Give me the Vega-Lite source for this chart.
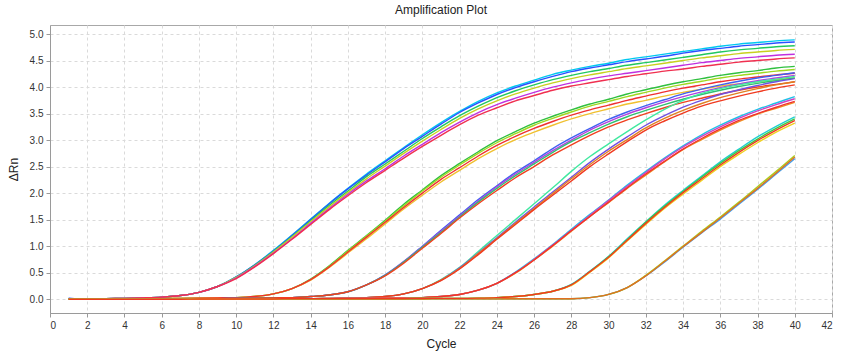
{
"$schema":"https://vega.github.io/schema/vega-lite/v6.json",
"width":782,"height":288,
"autosize":{"type":"none"},
"padding":{"left":50,"top":25,"right":12,"bottom":42},
"background":"white",
"title":{"text":"Amplification Plot","fontSize":12,"fontWeight":"normal","font":"Liberation Sans","color":"#222222","offset":8},
"datasets":{"curves":[
{"s":"Acy","c":1,"v":0.01},{"s":"Acy","c":2,"v":0},{"s":"Acy","c":3,"v":0.01},{"s":"Acy","c":4,"v":0.015},{"s":"Acy","c":5,"v":0.025},{"s":"Acy","c":6,"v":0.04},{"s":"Acy","c":7,"v":0.07},{"s":"Acy","c":8,"v":0.13},{"s":"Acy","c":9,"v":0.24},{"s":"Acy","c":10,"v":0.42},{"s":"Acy","c":11,"v":0.65},{"s":"Acy","c":12,"v":0.92},{"s":"Acy","c":13,"v":1.21},{"s":"Acy","c":14,"v":1.51},{"s":"Acy","c":15,"v":1.81},{"s":"Acy","c":16,"v":2.09},{"s":"Acy","c":17,"v":2.36},{"s":"Acy","c":18,"v":2.61},{"s":"Acy","c":19,"v":2.86},{"s":"Acy","c":20,"v":3.1},{"s":"Acy","c":21,"v":3.33},{"s":"Acy","c":22,"v":3.54},{"s":"Acy","c":23,"v":3.73},{"s":"Acy","c":24,"v":3.89},{"s":"Acy","c":25,"v":4.02},{"s":"Acy","c":26,"v":4.13},{"s":"Acy","c":27,"v":4.24},{"s":"Acy","c":28,"v":4.32},{"s":"Acy","c":29,"v":4.39},{"s":"Acy","c":30,"v":4.45},{"s":"Acy","c":31,"v":4.52},{"s":"Acy","c":32,"v":4.57},{"s":"Acy","c":33,"v":4.62},{"s":"Acy","c":34,"v":4.67},{"s":"Acy","c":35,"v":4.72},{"s":"Acy","c":36,"v":4.77},{"s":"Acy","c":37,"v":4.81},{"s":"Acy","c":38,"v":4.84},{"s":"Acy","c":39,"v":4.87},{"s":"Acy","c":40,"v":4.89},
{"s":"Abl","c":1,"v":0.02},{"s":"Abl","c":2,"v":0},{"s":"Abl","c":3,"v":0.01},{"s":"Abl","c":4,"v":0.015},{"s":"Abl","c":5,"v":0.025},{"s":"Abl","c":6,"v":0.04},{"s":"Abl","c":7,"v":0.07},{"s":"Abl","c":8,"v":0.13},{"s":"Abl","c":9,"v":0.24},{"s":"Abl","c":10,"v":0.42},{"s":"Abl","c":11,"v":0.65},{"s":"Abl","c":12,"v":0.91},{"s":"Abl","c":13,"v":1.2},{"s":"Abl","c":14,"v":1.5},{"s":"Abl","c":15,"v":1.8},{"s":"Abl","c":16,"v":2.08},{"s":"Abl","c":17,"v":2.34},{"s":"Abl","c":18,"v":2.59},{"s":"Abl","c":19,"v":2.84},{"s":"Abl","c":20,"v":3.07},{"s":"Abl","c":21,"v":3.3},{"s":"Abl","c":22,"v":3.52},{"s":"Abl","c":23,"v":3.7},{"s":"Abl","c":24,"v":3.86},{"s":"Abl","c":25,"v":3.99},{"s":"Abl","c":26,"v":4.1},{"s":"Abl","c":27,"v":4.2},{"s":"Abl","c":28,"v":4.29},{"s":"Abl","c":29,"v":4.36},{"s":"Abl","c":30,"v":4.42},{"s":"Abl","c":31,"v":4.48},{"s":"Abl","c":32,"v":4.53},{"s":"Abl","c":33,"v":4.58},{"s":"Abl","c":34,"v":4.64},{"s":"Abl","c":35,"v":4.69},{"s":"Abl","c":36,"v":4.73},{"s":"Abl","c":37,"v":4.77},{"s":"Abl","c":38,"v":4.8},{"s":"Abl","c":39,"v":4.83},{"s":"Abl","c":40,"v":4.85},
{"s":"Agr","c":1,"v":0.01},{"s":"Agr","c":2,"v":0},{"s":"Agr","c":3,"v":0.01},{"s":"Agr","c":4,"v":0.015},{"s":"Agr","c":5,"v":0.025},{"s":"Agr","c":6,"v":0.04},{"s":"Agr","c":7,"v":0.07},{"s":"Agr","c":8,"v":0.13},{"s":"Agr","c":9,"v":0.24},{"s":"Agr","c":10,"v":0.41},{"s":"Agr","c":11,"v":0.64},{"s":"Agr","c":12,"v":0.9},{"s":"Agr","c":13,"v":1.18},{"s":"Agr","c":14,"v":1.48},{"s":"Agr","c":15,"v":1.77},{"s":"Agr","c":16,"v":2.04},{"s":"Agr","c":17,"v":2.31},{"s":"Agr","c":18,"v":2.55},{"s":"Agr","c":19,"v":2.79},{"s":"Agr","c":20,"v":3.03},{"s":"Agr","c":21,"v":3.25},{"s":"Agr","c":22,"v":3.46},{"s":"Agr","c":23,"v":3.64},{"s":"Agr","c":24,"v":3.8},{"s":"Agr","c":25,"v":3.93},{"s":"Agr","c":26,"v":4.04},{"s":"Agr","c":27,"v":4.14},{"s":"Agr","c":28,"v":4.22},{"s":"Agr","c":29,"v":4.29},{"s":"Agr","c":30,"v":4.35},{"s":"Agr","c":31,"v":4.41},{"s":"Agr","c":32,"v":4.46},{"s":"Agr","c":33,"v":4.51},{"s":"Agr","c":34,"v":4.56},{"s":"Agr","c":35,"v":4.61},{"s":"Agr","c":36,"v":4.66},{"s":"Agr","c":37,"v":4.7},{"s":"Agr","c":38,"v":4.73},{"s":"Agr","c":39,"v":4.76},{"s":"Agr","c":40,"v":4.78},
{"s":"Aye","c":1,"v":0.01},{"s":"Aye","c":2,"v":0},{"s":"Aye","c":3,"v":0.01},{"s":"Aye","c":4,"v":0.015},{"s":"Aye","c":5,"v":0.025},{"s":"Aye","c":6,"v":0.04},{"s":"Aye","c":7,"v":0.07},{"s":"Aye","c":8,"v":0.13},{"s":"Aye","c":9,"v":0.24},{"s":"Aye","c":10,"v":0.41},{"s":"Aye","c":11,"v":0.63},{"s":"Aye","c":12,"v":0.89},{"s":"Aye","c":13,"v":1.17},{"s":"Aye","c":14,"v":1.46},{"s":"Aye","c":15,"v":1.74},{"s":"Aye","c":16,"v":2.01},{"s":"Aye","c":17,"v":2.27},{"s":"Aye","c":18,"v":2.51},{"s":"Aye","c":19,"v":2.75},{"s":"Aye","c":20,"v":2.98},{"s":"Aye","c":21,"v":3.2},{"s":"Aye","c":22,"v":3.41},{"s":"Aye","c":23,"v":3.59},{"s":"Aye","c":24,"v":3.74},{"s":"Aye","c":25,"v":3.87},{"s":"Aye","c":26,"v":3.98},{"s":"Aye","c":27,"v":4.08},{"s":"Aye","c":28,"v":4.16},{"s":"Aye","c":29,"v":4.23},{"s":"Aye","c":30,"v":4.29},{"s":"Aye","c":31,"v":4.35},{"s":"Aye","c":32,"v":4.4},{"s":"Aye","c":33,"v":4.45},{"s":"Aye","c":34,"v":4.5},{"s":"Aye","c":35,"v":4.55},{"s":"Aye","c":36,"v":4.59},{"s":"Aye","c":37,"v":4.63},{"s":"Aye","c":38,"v":4.66},{"s":"Aye","c":39,"v":4.69},{"s":"Aye","c":40,"v":4.71},
{"s":"Ama","c":1,"v":0.01},{"s":"Ama","c":2,"v":0},{"s":"Ama","c":3,"v":0.01},{"s":"Ama","c":4,"v":0.015},{"s":"Ama","c":5,"v":0.025},{"s":"Ama","c":6,"v":0.04},{"s":"Ama","c":7,"v":0.07},{"s":"Ama","c":8,"v":0.13},{"s":"Ama","c":9,"v":0.24},{"s":"Ama","c":10,"v":0.4},{"s":"Ama","c":11,"v":0.62},{"s":"Ama","c":12,"v":0.87},{"s":"Ama","c":13,"v":1.14},{"s":"Ama","c":14,"v":1.43},{"s":"Ama","c":15,"v":1.71},{"s":"Ama","c":16,"v":1.98},{"s":"Ama","c":17,"v":2.23},{"s":"Ama","c":18,"v":2.46},{"s":"Ama","c":19,"v":2.7},{"s":"Ama","c":20,"v":2.92},{"s":"Ama","c":21,"v":3.14},{"s":"Ama","c":22,"v":3.34},{"s":"Ama","c":23,"v":3.52},{"s":"Ama","c":24,"v":3.67},{"s":"Ama","c":25,"v":3.79},{"s":"Ama","c":26,"v":3.9},{"s":"Ama","c":27,"v":4.0},{"s":"Ama","c":28,"v":4.08},{"s":"Ama","c":29,"v":4.15},{"s":"Ama","c":30,"v":4.21},{"s":"Ama","c":31,"v":4.26},{"s":"Ama","c":32,"v":4.31},{"s":"Ama","c":33,"v":4.36},{"s":"Ama","c":34,"v":4.41},{"s":"Ama","c":35,"v":4.46},{"s":"Ama","c":36,"v":4.5},{"s":"Ama","c":37,"v":4.54},{"s":"Ama","c":38,"v":4.57},{"s":"Ama","c":39,"v":4.6},{"s":"Ama","c":40,"v":4.62},
{"s":"Are","c":1,"v":0.01},{"s":"Are","c":2,"v":0},{"s":"Are","c":3,"v":0.01},{"s":"Are","c":4,"v":0.015},{"s":"Are","c":5,"v":0.025},{"s":"Are","c":6,"v":0.04},{"s":"Are","c":7,"v":0.07},{"s":"Are","c":8,"v":0.13},{"s":"Are","c":9,"v":0.24},{"s":"Are","c":10,"v":0.39},{"s":"Are","c":11,"v":0.61},{"s":"Are","c":12,"v":0.86},{"s":"Are","c":13,"v":1.13},{"s":"Are","c":14,"v":1.41},{"s":"Are","c":15,"v":1.69},{"s":"Are","c":16,"v":1.95},{"s":"Are","c":17,"v":2.2},{"s":"Are","c":18,"v":2.43},{"s":"Are","c":19,"v":2.66},{"s":"Are","c":20,"v":2.88},{"s":"Are","c":21,"v":3.09},{"s":"Are","c":22,"v":3.29},{"s":"Are","c":23,"v":3.47},{"s":"Are","c":24,"v":3.61},{"s":"Are","c":25,"v":3.74},{"s":"Are","c":26,"v":3.84},{"s":"Are","c":27,"v":3.94},{"s":"Are","c":28,"v":4.02},{"s":"Are","c":29,"v":4.08},{"s":"Are","c":30,"v":4.14},{"s":"Are","c":31,"v":4.2},{"s":"Are","c":32,"v":4.25},{"s":"Are","c":33,"v":4.3},{"s":"Are","c":34,"v":4.34},{"s":"Are","c":35,"v":4.39},{"s":"Are","c":36,"v":4.43},{"s":"Are","c":37,"v":4.47},{"s":"Are","c":38,"v":4.5},{"s":"Are","c":39,"v":4.53},{"s":"Are","c":40,"v":4.55},
{"s":"Bgr","c":1,"v":0},{"s":"Bgr","c":2,"v":0},{"s":"Bgr","c":3,"v":0.005},{"s":"Bgr","c":4,"v":0.005},{"s":"Bgr","c":5,"v":0.01},{"s":"Bgr","c":6,"v":0.01},{"s":"Bgr","c":7,"v":0.015},{"s":"Bgr","c":8,"v":0.02},{"s":"Bgr","c":9,"v":0.025},{"s":"Bgr","c":10,"v":0.03},{"s":"Bgr","c":11,"v":0.05},{"s":"Bgr","c":12,"v":0.1},{"s":"Bgr","c":13,"v":0.2},{"s":"Bgr","c":14,"v":0.38},{"s":"Bgr","c":15,"v":0.63},{"s":"Bgr","c":16,"v":0.92},{"s":"Bgr","c":17,"v":1.2},{"s":"Bgr","c":18,"v":1.49},{"s":"Bgr","c":19,"v":1.79},{"s":"Bgr","c":20,"v":2.06},{"s":"Bgr","c":21,"v":2.33},{"s":"Bgr","c":22,"v":2.56},{"s":"Bgr","c":23,"v":2.78},{"s":"Bgr","c":24,"v":2.99},{"s":"Bgr","c":25,"v":3.16},{"s":"Bgr","c":26,"v":3.32},{"s":"Bgr","c":27,"v":3.45},{"s":"Bgr","c":28,"v":3.57},{"s":"Bgr","c":29,"v":3.68},{"s":"Bgr","c":30,"v":3.77},{"s":"Bgr","c":31,"v":3.87},{"s":"Bgr","c":32,"v":3.95},{"s":"Bgr","c":33,"v":4.03},{"s":"Bgr","c":34,"v":4.1},{"s":"Bgr","c":35,"v":4.16},{"s":"Bgr","c":36,"v":4.22},{"s":"Bgr","c":37,"v":4.27},{"s":"Bgr","c":38,"v":4.31},{"s":"Bgr","c":39,"v":4.36},{"s":"Bgr","c":40,"v":4.39},
{"s":"Bli","c":1,"v":0},{"s":"Bli","c":2,"v":0},{"s":"Bli","c":3,"v":0.005},{"s":"Bli","c":4,"v":0.005},{"s":"Bli","c":5,"v":0.01},{"s":"Bli","c":6,"v":0.01},{"s":"Bli","c":7,"v":0.015},{"s":"Bli","c":8,"v":0.02},{"s":"Bli","c":9,"v":0.025},{"s":"Bli","c":10,"v":0.03},{"s":"Bli","c":11,"v":0.05},{"s":"Bli","c":12,"v":0.1},{"s":"Bli","c":13,"v":0.2},{"s":"Bli","c":14,"v":0.37},{"s":"Bli","c":15,"v":0.62},{"s":"Bli","c":16,"v":0.91},{"s":"Bli","c":17,"v":1.19},{"s":"Bli","c":18,"v":1.47},{"s":"Bli","c":19,"v":1.76},{"s":"Bli","c":20,"v":2.04},{"s":"Bli","c":21,"v":2.3},{"s":"Bli","c":22,"v":2.53},{"s":"Bli","c":23,"v":2.75},{"s":"Bli","c":24,"v":2.95},{"s":"Bli","c":25,"v":3.12},{"s":"Bli","c":26,"v":3.28},{"s":"Bli","c":27,"v":3.41},{"s":"Bli","c":28,"v":3.53},{"s":"Bli","c":29,"v":3.64},{"s":"Bli","c":30,"v":3.73},{"s":"Bli","c":31,"v":3.82},{"s":"Bli","c":32,"v":3.9},{"s":"Bli","c":33,"v":3.98},{"s":"Bli","c":34,"v":4.05},{"s":"Bli","c":35,"v":4.11},{"s":"Bli","c":36,"v":4.17},{"s":"Bli","c":37,"v":4.22},{"s":"Bli","c":38,"v":4.26},{"s":"Bli","c":39,"v":4.3},{"s":"Bli","c":40,"v":4.33},
{"s":"Bye","c":1,"v":0},{"s":"Bye","c":2,"v":0},{"s":"Bye","c":3,"v":0.005},{"s":"Bye","c":4,"v":0.005},{"s":"Bye","c":5,"v":0.01},{"s":"Bye","c":6,"v":0.01},{"s":"Bye","c":7,"v":0.015},{"s":"Bye","c":8,"v":0.02},{"s":"Bye","c":9,"v":0.025},{"s":"Bye","c":10,"v":0.03},{"s":"Bye","c":11,"v":0.05},{"s":"Bye","c":12,"v":0.1},{"s":"Bye","c":13,"v":0.2},{"s":"Bye","c":14,"v":0.36},{"s":"Bye","c":15,"v":0.6},{"s":"Bye","c":16,"v":0.87},{"s":"Bye","c":17,"v":1.14},{"s":"Bye","c":18,"v":1.42},{"s":"Bye","c":19,"v":1.7},{"s":"Bye","c":20,"v":1.96},{"s":"Bye","c":21,"v":2.21},{"s":"Bye","c":22,"v":2.43},{"s":"Bye","c":23,"v":2.65},{"s":"Bye","c":24,"v":2.84},{"s":"Bye","c":25,"v":3.01},{"s":"Bye","c":26,"v":3.15},{"s":"Bye","c":27,"v":3.28},{"s":"Bye","c":28,"v":3.4},{"s":"Bye","c":29,"v":3.5},{"s":"Bye","c":30,"v":3.59},{"s":"Bye","c":31,"v":3.68},{"s":"Bye","c":32,"v":3.75},{"s":"Bye","c":33,"v":3.83},{"s":"Bye","c":34,"v":3.9},{"s":"Bye","c":35,"v":3.96},{"s":"Bye","c":36,"v":4.02},{"s":"Bye","c":37,"v":4.06},{"s":"Bye","c":38,"v":4.1},{"s":"Bye","c":39,"v":4.14},{"s":"Bye","c":40,"v":4.17},
{"s":"Bre","c":1,"v":0},{"s":"Bre","c":2,"v":0},{"s":"Bre","c":3,"v":0.005},{"s":"Bre","c":4,"v":0.005},{"s":"Bre","c":5,"v":0.01},{"s":"Bre","c":6,"v":0.01},{"s":"Bre","c":7,"v":0.015},{"s":"Bre","c":8,"v":0.02},{"s":"Bre","c":9,"v":0.025},{"s":"Bre","c":10,"v":0.03},{"s":"Bre","c":11,"v":0.05},{"s":"Bre","c":12,"v":0.1},{"s":"Bre","c":13,"v":0.2},{"s":"Bre","c":14,"v":0.37},{"s":"Bre","c":15,"v":0.61},{"s":"Bre","c":16,"v":0.89},{"s":"Bre","c":17,"v":1.17},{"s":"Bre","c":18,"v":1.45},{"s":"Bre","c":19,"v":1.73},{"s":"Bre","c":20,"v":2.0},{"s":"Bre","c":21,"v":2.26},{"s":"Bre","c":22,"v":2.48},{"s":"Bre","c":23,"v":2.7},{"s":"Bre","c":24,"v":2.9},{"s":"Bre","c":25,"v":3.07},{"s":"Bre","c":26,"v":3.22},{"s":"Bre","c":27,"v":3.35},{"s":"Bre","c":28,"v":3.47},{"s":"Bre","c":29,"v":3.57},{"s":"Bre","c":30,"v":3.66},{"s":"Bre","c":31,"v":3.75},{"s":"Bre","c":32,"v":3.83},{"s":"Bre","c":33,"v":3.91},{"s":"Bre","c":34,"v":3.98},{"s":"Bre","c":35,"v":4.04},{"s":"Bre","c":36,"v":4.1},{"s":"Bre","c":37,"v":4.15},{"s":"Bre","c":38,"v":4.19},{"s":"Bre","c":39,"v":4.23},{"s":"Bre","c":40,"v":4.26},
{"s":"Cbl","c":1,"v":0},{"s":"Cbl","c":2,"v":0},{"s":"Cbl","c":3,"v":0},{"s":"Cbl","c":4,"v":0.005},{"s":"Cbl","c":5,"v":0.005},{"s":"Cbl","c":6,"v":0.005},{"s":"Cbl","c":7,"v":0.01},{"s":"Cbl","c":8,"v":0.01},{"s":"Cbl","c":9,"v":0.01},{"s":"Cbl","c":10,"v":0.015},{"s":"Cbl","c":11,"v":0.02},{"s":"Cbl","c":12,"v":0.025},{"s":"Cbl","c":13,"v":0.03},{"s":"Cbl","c":14,"v":0.05},{"s":"Cbl","c":15,"v":0.08},{"s":"Cbl","c":16,"v":0.14},{"s":"Cbl","c":17,"v":0.27},{"s":"Cbl","c":18,"v":0.46},{"s":"Cbl","c":19,"v":0.71},{"s":"Cbl","c":20,"v":1.0},{"s":"Cbl","c":21,"v":1.3},{"s":"Cbl","c":22,"v":1.59},{"s":"Cbl","c":23,"v":1.88},{"s":"Cbl","c":24,"v":2.14},{"s":"Cbl","c":25,"v":2.39},{"s":"Cbl","c":26,"v":2.61},{"s":"Cbl","c":27,"v":2.84},{"s":"Cbl","c":28,"v":3.04},{"s":"Cbl","c":29,"v":3.22},{"s":"Cbl","c":30,"v":3.39},{"s":"Cbl","c":31,"v":3.53},{"s":"Cbl","c":32,"v":3.65},{"s":"Cbl","c":33,"v":3.76},{"s":"Cbl","c":34,"v":3.87},{"s":"Cbl","c":35,"v":3.96},{"s":"Cbl","c":36,"v":4.04},{"s":"Cbl","c":37,"v":4.11},{"s":"Cbl","c":38,"v":4.17},{"s":"Cbl","c":39,"v":4.22},{"s":"Cbl","c":40,"v":4.27},
{"s":"Cma","c":1,"v":0},{"s":"Cma","c":2,"v":0},{"s":"Cma","c":3,"v":0},{"s":"Cma","c":4,"v":0.005},{"s":"Cma","c":5,"v":0.005},{"s":"Cma","c":6,"v":0.005},{"s":"Cma","c":7,"v":0.01},{"s":"Cma","c":8,"v":0.01},{"s":"Cma","c":9,"v":0.01},{"s":"Cma","c":10,"v":0.015},{"s":"Cma","c":11,"v":0.02},{"s":"Cma","c":12,"v":0.025},{"s":"Cma","c":13,"v":0.03},{"s":"Cma","c":14,"v":0.05},{"s":"Cma","c":15,"v":0.08},{"s":"Cma","c":16,"v":0.14},{"s":"Cma","c":17,"v":0.27},{"s":"Cma","c":18,"v":0.45},{"s":"Cma","c":19,"v":0.71},{"s":"Cma","c":20,"v":0.99},{"s":"Cma","c":21,"v":1.28},{"s":"Cma","c":22,"v":1.57},{"s":"Cma","c":23,"v":1.85},{"s":"Cma","c":24,"v":2.12},{"s":"Cma","c":25,"v":2.36},{"s":"Cma","c":26,"v":2.58},{"s":"Cma","c":27,"v":2.8},{"s":"Cma","c":28,"v":3.0},{"s":"Cma","c":29,"v":3.19},{"s":"Cma","c":30,"v":3.35},{"s":"Cma","c":31,"v":3.49},{"s":"Cma","c":32,"v":3.61},{"s":"Cma","c":33,"v":3.72},{"s":"Cma","c":34,"v":3.82},{"s":"Cma","c":35,"v":3.91},{"s":"Cma","c":36,"v":3.99},{"s":"Cma","c":37,"v":4.06},{"s":"Cma","c":38,"v":4.12},{"s":"Cma","c":39,"v":4.17},{"s":"Cma","c":40,"v":4.22},
{"s":"Cgr","c":1,"v":0},{"s":"Cgr","c":2,"v":0},{"s":"Cgr","c":3,"v":0},{"s":"Cgr","c":4,"v":0.005},{"s":"Cgr","c":5,"v":0.005},{"s":"Cgr","c":6,"v":0.005},{"s":"Cgr","c":7,"v":0.01},{"s":"Cgr","c":8,"v":0.01},{"s":"Cgr","c":9,"v":0.01},{"s":"Cgr","c":10,"v":0.015},{"s":"Cgr","c":11,"v":0.02},{"s":"Cgr","c":12,"v":0.025},{"s":"Cgr","c":13,"v":0.03},{"s":"Cgr","c":14,"v":0.05},{"s":"Cgr","c":15,"v":0.08},{"s":"Cgr","c":16,"v":0.14},{"s":"Cgr","c":17,"v":0.27},{"s":"Cgr","c":18,"v":0.45},{"s":"Cgr","c":19,"v":0.7},{"s":"Cgr","c":20,"v":0.98},{"s":"Cgr","c":21,"v":1.26},{"s":"Cgr","c":22,"v":1.55},{"s":"Cgr","c":23,"v":1.83},{"s":"Cgr","c":24,"v":2.09},{"s":"Cgr","c":25,"v":2.33},{"s":"Cgr","c":26,"v":2.55},{"s":"Cgr","c":27,"v":2.77},{"s":"Cgr","c":28,"v":2.97},{"s":"Cgr","c":29,"v":3.14},{"s":"Cgr","c":30,"v":3.3},{"s":"Cgr","c":31,"v":3.44},{"s":"Cgr","c":32,"v":3.56},{"s":"Cgr","c":33,"v":3.67},{"s":"Cgr","c":34,"v":3.77},{"s":"Cgr","c":35,"v":3.86},{"s":"Cgr","c":36,"v":3.94},{"s":"Cgr","c":37,"v":4.01},{"s":"Cgr","c":38,"v":4.07},{"s":"Cgr","c":39,"v":4.12},{"s":"Cgr","c":40,"v":4.17},
{"s":"Cre","c":1,"v":0},{"s":"Cre","c":2,"v":0},{"s":"Cre","c":3,"v":0},{"s":"Cre","c":4,"v":0.005},{"s":"Cre","c":5,"v":0.005},{"s":"Cre","c":6,"v":0.005},{"s":"Cre","c":7,"v":0.01},{"s":"Cre","c":8,"v":0.01},{"s":"Cre","c":9,"v":0.01},{"s":"Cre","c":10,"v":0.015},{"s":"Cre","c":11,"v":0.02},{"s":"Cre","c":12,"v":0.025},{"s":"Cre","c":13,"v":0.03},{"s":"Cre","c":14,"v":0.05},{"s":"Cre","c":15,"v":0.08},{"s":"Cre","c":16,"v":0.14},{"s":"Cre","c":17,"v":0.27},{"s":"Cre","c":18,"v":0.44},{"s":"Cre","c":19,"v":0.68},{"s":"Cre","c":20,"v":0.96},{"s":"Cre","c":21,"v":1.24},{"s":"Cre","c":22,"v":1.53},{"s":"Cre","c":23,"v":1.8},{"s":"Cre","c":24,"v":2.05},{"s":"Cre","c":25,"v":2.29},{"s":"Cre","c":26,"v":2.5},{"s":"Cre","c":27,"v":2.72},{"s":"Cre","c":28,"v":2.91},{"s":"Cre","c":29,"v":3.09},{"s":"Cre","c":30,"v":3.25},{"s":"Cre","c":31,"v":3.38},{"s":"Cre","c":32,"v":3.5},{"s":"Cre","c":33,"v":3.61},{"s":"Cre","c":34,"v":3.71},{"s":"Cre","c":35,"v":3.79},{"s":"Cre","c":36,"v":3.87},{"s":"Cre","c":37,"v":3.94},{"s":"Cre","c":38,"v":4.0},{"s":"Cre","c":39,"v":4.05},{"s":"Cre","c":40,"v":4.1},
{"s":"Dmi","c":1,"v":0},{"s":"Dmi","c":2,"v":0},{"s":"Dmi","c":3,"v":0},{"s":"Dmi","c":4,"v":0},{"s":"Dmi","c":5,"v":0.005},{"s":"Dmi","c":6,"v":0.005},{"s":"Dmi","c":7,"v":0.005},{"s":"Dmi","c":8,"v":0.005},{"s":"Dmi","c":9,"v":0.01},{"s":"Dmi","c":10,"v":0.01},{"s":"Dmi","c":11,"v":0.01},{"s":"Dmi","c":12,"v":0.01},{"s":"Dmi","c":13,"v":0.01},{"s":"Dmi","c":14,"v":0.01},{"s":"Dmi","c":15,"v":0.015},{"s":"Dmi","c":16,"v":0.02},{"s":"Dmi","c":17,"v":0.03},{"s":"Dmi","c":18,"v":0.05},{"s":"Dmi","c":19,"v":0.1},{"s":"Dmi","c":20,"v":0.2},{"s":"Dmi","c":21,"v":0.37},{"s":"Dmi","c":22,"v":0.6},{"s":"Dmi","c":23,"v":0.9},{"s":"Dmi","c":24,"v":1.2},{"s":"Dmi","c":25,"v":1.5},{"s":"Dmi","c":26,"v":1.8},{"s":"Dmi","c":27,"v":2.1},{"s":"Dmi","c":28,"v":2.41},{"s":"Dmi","c":29,"v":2.69},{"s":"Dmi","c":30,"v":2.93},{"s":"Dmi","c":31,"v":3.16},{"s":"Dmi","c":32,"v":3.38},{"s":"Dmi","c":33,"v":3.58},{"s":"Dmi","c":34,"v":3.75},{"s":"Dmi","c":35,"v":3.88},{"s":"Dmi","c":36,"v":3.97},{"s":"Dmi","c":37,"v":4.04},{"s":"Dmi","c":38,"v":4.1},{"s":"Dmi","c":39,"v":4.15},{"s":"Dmi","c":40,"v":4.2},
{"s":"Dpu","c":1,"v":0},{"s":"Dpu","c":2,"v":0},{"s":"Dpu","c":3,"v":0},{"s":"Dpu","c":4,"v":0},{"s":"Dpu","c":5,"v":0.005},{"s":"Dpu","c":6,"v":0.005},{"s":"Dpu","c":7,"v":0.005},{"s":"Dpu","c":8,"v":0.005},{"s":"Dpu","c":9,"v":0.01},{"s":"Dpu","c":10,"v":0.01},{"s":"Dpu","c":11,"v":0.01},{"s":"Dpu","c":12,"v":0.01},{"s":"Dpu","c":13,"v":0.01},{"s":"Dpu","c":14,"v":0.01},{"s":"Dpu","c":15,"v":0.015},{"s":"Dpu","c":16,"v":0.02},{"s":"Dpu","c":17,"v":0.03},{"s":"Dpu","c":18,"v":0.05},{"s":"Dpu","c":19,"v":0.1},{"s":"Dpu","c":20,"v":0.2},{"s":"Dpu","c":21,"v":0.36},{"s":"Dpu","c":22,"v":0.59},{"s":"Dpu","c":23,"v":0.87},{"s":"Dpu","c":24,"v":1.16},{"s":"Dpu","c":25,"v":1.45},{"s":"Dpu","c":26,"v":1.74},{"s":"Dpu","c":27,"v":2.02},{"s":"Dpu","c":28,"v":2.3},{"s":"Dpu","c":29,"v":2.58},{"s":"Dpu","c":30,"v":2.83},{"s":"Dpu","c":31,"v":3.06},{"s":"Dpu","c":32,"v":3.28},{"s":"Dpu","c":33,"v":3.46},{"s":"Dpu","c":34,"v":3.62},{"s":"Dpu","c":35,"v":3.75},{"s":"Dpu","c":36,"v":3.86},{"s":"Dpu","c":37,"v":3.95},{"s":"Dpu","c":38,"v":4.03},{"s":"Dpu","c":39,"v":4.1},{"s":"Dpu","c":40,"v":4.16},
{"s":"Dor","c":1,"v":0},{"s":"Dor","c":2,"v":0},{"s":"Dor","c":3,"v":0},{"s":"Dor","c":4,"v":0},{"s":"Dor","c":5,"v":0.005},{"s":"Dor","c":6,"v":0.005},{"s":"Dor","c":7,"v":0.005},{"s":"Dor","c":8,"v":0.005},{"s":"Dor","c":9,"v":0.01},{"s":"Dor","c":10,"v":0.01},{"s":"Dor","c":11,"v":0.01},{"s":"Dor","c":12,"v":0.01},{"s":"Dor","c":13,"v":0.01},{"s":"Dor","c":14,"v":0.01},{"s":"Dor","c":15,"v":0.015},{"s":"Dor","c":16,"v":0.02},{"s":"Dor","c":17,"v":0.03},{"s":"Dor","c":18,"v":0.05},{"s":"Dor","c":19,"v":0.1},{"s":"Dor","c":20,"v":0.2},{"s":"Dor","c":21,"v":0.36},{"s":"Dor","c":22,"v":0.58},{"s":"Dor","c":23,"v":0.86},{"s":"Dor","c":24,"v":1.14},{"s":"Dor","c":25,"v":1.43},{"s":"Dor","c":26,"v":1.71},{"s":"Dor","c":27,"v":1.99},{"s":"Dor","c":28,"v":2.27},{"s":"Dor","c":29,"v":2.54},{"s":"Dor","c":30,"v":2.79},{"s":"Dor","c":31,"v":3.01},{"s":"Dor","c":32,"v":3.23},{"s":"Dor","c":33,"v":3.41},{"s":"Dor","c":34,"v":3.56},{"s":"Dor","c":35,"v":3.69},{"s":"Dor","c":36,"v":3.8},{"s":"Dor","c":37,"v":3.89},{"s":"Dor","c":38,"v":3.97},{"s":"Dor","c":39,"v":4.04},{"s":"Dor","c":40,"v":4.1},
{"s":"Dre","c":1,"v":0},{"s":"Dre","c":2,"v":0},{"s":"Dre","c":3,"v":0},{"s":"Dre","c":4,"v":0},{"s":"Dre","c":5,"v":0.005},{"s":"Dre","c":6,"v":0.005},{"s":"Dre","c":7,"v":0.005},{"s":"Dre","c":8,"v":0.005},{"s":"Dre","c":9,"v":0.01},{"s":"Dre","c":10,"v":0.01},{"s":"Dre","c":11,"v":0.01},{"s":"Dre","c":12,"v":0.01},{"s":"Dre","c":13,"v":0.01},{"s":"Dre","c":14,"v":0.01},{"s":"Dre","c":15,"v":0.015},{"s":"Dre","c":16,"v":0.02},{"s":"Dre","c":17,"v":0.03},{"s":"Dre","c":18,"v":0.05},{"s":"Dre","c":19,"v":0.1},{"s":"Dre","c":20,"v":0.2},{"s":"Dre","c":21,"v":0.35},{"s":"Dre","c":22,"v":0.57},{"s":"Dre","c":23,"v":0.84},{"s":"Dre","c":24,"v":1.13},{"s":"Dre","c":25,"v":1.41},{"s":"Dre","c":26,"v":1.69},{"s":"Dre","c":27,"v":1.96},{"s":"Dre","c":28,"v":2.23},{"s":"Dre","c":29,"v":2.5},{"s":"Dre","c":30,"v":2.74},{"s":"Dre","c":31,"v":2.97},{"s":"Dre","c":32,"v":3.19},{"s":"Dre","c":33,"v":3.36},{"s":"Dre","c":34,"v":3.51},{"s":"Dre","c":35,"v":3.64},{"s":"Dre","c":36,"v":3.74},{"s":"Dre","c":37,"v":3.83},{"s":"Dre","c":38,"v":3.91},{"s":"Dre","c":39,"v":3.98},{"s":"Dre","c":40,"v":4.04},
{"s":"Ecy","c":1,"v":0},{"s":"Ecy","c":2,"v":0},{"s":"Ecy","c":3,"v":0},{"s":"Ecy","c":4,"v":0},{"s":"Ecy","c":5,"v":0},{"s":"Ecy","c":6,"v":0.005},{"s":"Ecy","c":7,"v":0.005},{"s":"Ecy","c":8,"v":0.005},{"s":"Ecy","c":9,"v":0.005},{"s":"Ecy","c":10,"v":0.01},{"s":"Ecy","c":11,"v":0.01},{"s":"Ecy","c":12,"v":0.01},{"s":"Ecy","c":13,"v":0.01},{"s":"Ecy","c":14,"v":0.01},{"s":"Ecy","c":15,"v":0.01},{"s":"Ecy","c":16,"v":0.015},{"s":"Ecy","c":17,"v":0.015},{"s":"Ecy","c":18,"v":0.02},{"s":"Ecy","c":19,"v":0.02},{"s":"Ecy","c":20,"v":0.03},{"s":"Ecy","c":21,"v":0.05},{"s":"Ecy","c":22,"v":0.09},{"s":"Ecy","c":23,"v":0.17},{"s":"Ecy","c":24,"v":0.3},{"s":"Ecy","c":25,"v":0.51},{"s":"Ecy","c":26,"v":0.76},{"s":"Ecy","c":27,"v":1.03},{"s":"Ecy","c":28,"v":1.32},{"s":"Ecy","c":29,"v":1.6},{"s":"Ecy","c":30,"v":1.87},{"s":"Ecy","c":31,"v":2.15},{"s":"Ecy","c":32,"v":2.41},{"s":"Ecy","c":33,"v":2.66},{"s":"Ecy","c":34,"v":2.89},{"s":"Ecy","c":35,"v":3.1},{"s":"Ecy","c":36,"v":3.28},{"s":"Ecy","c":37,"v":3.44},{"s":"Ecy","c":38,"v":3.58},{"s":"Ecy","c":39,"v":3.7},{"s":"Ecy","c":40,"v":3.82},
{"s":"Ema","c":1,"v":0},{"s":"Ema","c":2,"v":0},{"s":"Ema","c":3,"v":0},{"s":"Ema","c":4,"v":0},{"s":"Ema","c":5,"v":0},{"s":"Ema","c":6,"v":0.005},{"s":"Ema","c":7,"v":0.005},{"s":"Ema","c":8,"v":0.005},{"s":"Ema","c":9,"v":0.005},{"s":"Ema","c":10,"v":0.01},{"s":"Ema","c":11,"v":0.01},{"s":"Ema","c":12,"v":0.01},{"s":"Ema","c":13,"v":0.01},{"s":"Ema","c":14,"v":0.01},{"s":"Ema","c":15,"v":0.01},{"s":"Ema","c":16,"v":0.015},{"s":"Ema","c":17,"v":0.015},{"s":"Ema","c":18,"v":0.02},{"s":"Ema","c":19,"v":0.02},{"s":"Ema","c":20,"v":0.03},{"s":"Ema","c":21,"v":0.05},{"s":"Ema","c":22,"v":0.09},{"s":"Ema","c":23,"v":0.17},{"s":"Ema","c":24,"v":0.3},{"s":"Ema","c":25,"v":0.5},{"s":"Ema","c":26,"v":0.75},{"s":"Ema","c":27,"v":1.02},{"s":"Ema","c":28,"v":1.3},{"s":"Ema","c":29,"v":1.58},{"s":"Ema","c":30,"v":1.86},{"s":"Ema","c":31,"v":2.13},{"s":"Ema","c":32,"v":2.39},{"s":"Ema","c":33,"v":2.64},{"s":"Ema","c":34,"v":2.87},{"s":"Ema","c":35,"v":3.07},{"s":"Ema","c":36,"v":3.25},{"s":"Ema","c":37,"v":3.41},{"s":"Ema","c":38,"v":3.55},{"s":"Ema","c":39,"v":3.67},{"s":"Ema","c":40,"v":3.78},
{"s":"Eor","c":1,"v":0},{"s":"Eor","c":2,"v":0},{"s":"Eor","c":3,"v":0},{"s":"Eor","c":4,"v":0},{"s":"Eor","c":5,"v":0},{"s":"Eor","c":6,"v":0.005},{"s":"Eor","c":7,"v":0.005},{"s":"Eor","c":8,"v":0.005},{"s":"Eor","c":9,"v":0.005},{"s":"Eor","c":10,"v":0.01},{"s":"Eor","c":11,"v":0.01},{"s":"Eor","c":12,"v":0.01},{"s":"Eor","c":13,"v":0.01},{"s":"Eor","c":14,"v":0.01},{"s":"Eor","c":15,"v":0.01},{"s":"Eor","c":16,"v":0.015},{"s":"Eor","c":17,"v":0.015},{"s":"Eor","c":18,"v":0.02},{"s":"Eor","c":19,"v":0.02},{"s":"Eor","c":20,"v":0.03},{"s":"Eor","c":21,"v":0.05},{"s":"Eor","c":22,"v":0.09},{"s":"Eor","c":23,"v":0.17},{"s":"Eor","c":24,"v":0.3},{"s":"Eor","c":25,"v":0.49},{"s":"Eor","c":26,"v":0.74},{"s":"Eor","c":27,"v":1.0},{"s":"Eor","c":28,"v":1.28},{"s":"Eor","c":29,"v":1.56},{"s":"Eor","c":30,"v":1.82},{"s":"Eor","c":31,"v":2.09},{"s":"Eor","c":32,"v":2.34},{"s":"Eor","c":33,"v":2.59},{"s":"Eor","c":34,"v":2.82},{"s":"Eor","c":35,"v":3.01},{"s":"Eor","c":36,"v":3.19},{"s":"Eor","c":37,"v":3.35},{"s":"Eor","c":38,"v":3.49},{"s":"Eor","c":39,"v":3.6},{"s":"Eor","c":40,"v":3.71},
{"s":"Ere","c":1,"v":0},{"s":"Ere","c":2,"v":0},{"s":"Ere","c":3,"v":0},{"s":"Ere","c":4,"v":0},{"s":"Ere","c":5,"v":0},{"s":"Ere","c":6,"v":0.005},{"s":"Ere","c":7,"v":0.005},{"s":"Ere","c":8,"v":0.005},{"s":"Ere","c":9,"v":0.005},{"s":"Ere","c":10,"v":0.01},{"s":"Ere","c":11,"v":0.01},{"s":"Ere","c":12,"v":0.01},{"s":"Ere","c":13,"v":0.01},{"s":"Ere","c":14,"v":0.01},{"s":"Ere","c":15,"v":0.01},{"s":"Ere","c":16,"v":0.015},{"s":"Ere","c":17,"v":0.015},{"s":"Ere","c":18,"v":0.02},{"s":"Ere","c":19,"v":0.02},{"s":"Ere","c":20,"v":0.03},{"s":"Ere","c":21,"v":0.05},{"s":"Ere","c":22,"v":0.09},{"s":"Ere","c":23,"v":0.17},{"s":"Ere","c":24,"v":0.3},{"s":"Ere","c":25,"v":0.5},{"s":"Ere","c":26,"v":0.74},{"s":"Ere","c":27,"v":1.01},{"s":"Ere","c":28,"v":1.29},{"s":"Ere","c":29,"v":1.56},{"s":"Ere","c":30,"v":1.83},{"s":"Ere","c":31,"v":2.1},{"s":"Ere","c":32,"v":2.36},{"s":"Ere","c":33,"v":2.6},{"s":"Ere","c":34,"v":2.83},{"s":"Ere","c":35,"v":3.03},{"s":"Ere","c":36,"v":3.21},{"s":"Ere","c":37,"v":3.37},{"s":"Ere","c":38,"v":3.5},{"s":"Ere","c":39,"v":3.62},{"s":"Ere","c":40,"v":3.73},
{"s":"Gbl","c":1,"v":0},{"s":"Gbl","c":2,"v":0},{"s":"Gbl","c":3,"v":0},{"s":"Gbl","c":4,"v":0},{"s":"Gbl","c":5,"v":0},{"s":"Gbl","c":6,"v":0},{"s":"Gbl","c":7,"v":0},{"s":"Gbl","c":8,"v":0},{"s":"Gbl","c":9,"v":0},{"s":"Gbl","c":10,"v":0},{"s":"Gbl","c":11,"v":0.005},{"s":"Gbl","c":12,"v":0.005},{"s":"Gbl","c":13,"v":0.005},{"s":"Gbl","c":14,"v":0.005},{"s":"Gbl","c":15,"v":0.005},{"s":"Gbl","c":16,"v":0.005},{"s":"Gbl","c":17,"v":0.005},{"s":"Gbl","c":18,"v":0.005},{"s":"Gbl","c":19,"v":0.005},{"s":"Gbl","c":20,"v":0.005},{"s":"Gbl","c":21,"v":0.01},{"s":"Gbl","c":22,"v":0.01},{"s":"Gbl","c":23,"v":0.01},{"s":"Gbl","c":24,"v":0.01},{"s":"Gbl","c":25,"v":0.01},{"s":"Gbl","c":26,"v":0.01},{"s":"Gbl","c":27,"v":0.01},{"s":"Gbl","c":28,"v":0.01},{"s":"Gbl","c":29,"v":0.03},{"s":"Gbl","c":30,"v":0.09},{"s":"Gbl","c":31,"v":0.22},{"s":"Gbl","c":32,"v":0.44},{"s":"Gbl","c":33,"v":0.7},{"s":"Gbl","c":34,"v":0.98},{"s":"Gbl","c":35,"v":1.25},{"s":"Gbl","c":36,"v":1.51},{"s":"Gbl","c":37,"v":1.79},{"s":"Gbl","c":38,"v":2.07},{"s":"Gbl","c":39,"v":2.36},{"s":"Gbl","c":40,"v":2.65},
{"s":"Gli","c":1,"v":0},{"s":"Gli","c":2,"v":0},{"s":"Gli","c":3,"v":0},{"s":"Gli","c":4,"v":0},{"s":"Gli","c":5,"v":0},{"s":"Gli","c":6,"v":0},{"s":"Gli","c":7,"v":0},{"s":"Gli","c":8,"v":0},{"s":"Gli","c":9,"v":0},{"s":"Gli","c":10,"v":0},{"s":"Gli","c":11,"v":0.005},{"s":"Gli","c":12,"v":0.005},{"s":"Gli","c":13,"v":0.005},{"s":"Gli","c":14,"v":0.005},{"s":"Gli","c":15,"v":0.005},{"s":"Gli","c":16,"v":0.005},{"s":"Gli","c":17,"v":0.005},{"s":"Gli","c":18,"v":0.005},{"s":"Gli","c":19,"v":0.005},{"s":"Gli","c":20,"v":0.005},{"s":"Gli","c":21,"v":0.01},{"s":"Gli","c":22,"v":0.01},{"s":"Gli","c":23,"v":0.01},{"s":"Gli","c":24,"v":0.01},{"s":"Gli","c":25,"v":0.01},{"s":"Gli","c":26,"v":0.01},{"s":"Gli","c":27,"v":0.01},{"s":"Gli","c":28,"v":0.01},{"s":"Gli","c":29,"v":0.03},{"s":"Gli","c":30,"v":0.09},{"s":"Gli","c":31,"v":0.22},{"s":"Gli","c":32,"v":0.45},{"s":"Gli","c":33,"v":0.72},{"s":"Gli","c":34,"v":1.0},{"s":"Gli","c":35,"v":1.28},{"s":"Gli","c":36,"v":1.55},{"s":"Gli","c":37,"v":1.83},{"s":"Gli","c":38,"v":2.12},{"s":"Gli","c":39,"v":2.41},{"s":"Gli","c":40,"v":2.71},
{"s":"Gor","c":1,"v":0},{"s":"Gor","c":2,"v":0},{"s":"Gor","c":3,"v":0},{"s":"Gor","c":4,"v":0},{"s":"Gor","c":5,"v":0},{"s":"Gor","c":6,"v":0},{"s":"Gor","c":7,"v":0},{"s":"Gor","c":8,"v":0},{"s":"Gor","c":9,"v":0},{"s":"Gor","c":10,"v":0},{"s":"Gor","c":11,"v":0.005},{"s":"Gor","c":12,"v":0.005},{"s":"Gor","c":13,"v":0.005},{"s":"Gor","c":14,"v":0.005},{"s":"Gor","c":15,"v":0.005},{"s":"Gor","c":16,"v":0.005},{"s":"Gor","c":17,"v":0.005},{"s":"Gor","c":18,"v":0.005},{"s":"Gor","c":19,"v":0.005},{"s":"Gor","c":20,"v":0.005},{"s":"Gor","c":21,"v":0.01},{"s":"Gor","c":22,"v":0.01},{"s":"Gor","c":23,"v":0.01},{"s":"Gor","c":24,"v":0.01},{"s":"Gor","c":25,"v":0.01},{"s":"Gor","c":26,"v":0.01},{"s":"Gor","c":27,"v":0.01},{"s":"Gor","c":28,"v":0.01},{"s":"Gor","c":29,"v":0.03},{"s":"Gor","c":30,"v":0.09},{"s":"Gor","c":31,"v":0.22},{"s":"Gor","c":32,"v":0.44},{"s":"Gor","c":33,"v":0.71},{"s":"Gor","c":34,"v":0.99},{"s":"Gor","c":35,"v":1.26},{"s":"Gor","c":36,"v":1.53},{"s":"Gor","c":37,"v":1.81},{"s":"Gor","c":38,"v":2.09},{"s":"Gor","c":39,"v":2.38},{"s":"Gor","c":40,"v":2.68},
{"s":"Fcy","c":1,"v":0},{"s":"Fcy","c":2,"v":0},{"s":"Fcy","c":3,"v":0},{"s":"Fcy","c":4,"v":0},{"s":"Fcy","c":5,"v":0},{"s":"Fcy","c":6,"v":0},{"s":"Fcy","c":7,"v":0},{"s":"Fcy","c":8,"v":0.005},{"s":"Fcy","c":9,"v":0.005},{"s":"Fcy","c":10,"v":0.005},{"s":"Fcy","c":11,"v":0.005},{"s":"Fcy","c":12,"v":0.005},{"s":"Fcy","c":13,"v":0.01},{"s":"Fcy","c":14,"v":0.01},{"s":"Fcy","c":15,"v":0.01},{"s":"Fcy","c":16,"v":0.01},{"s":"Fcy","c":17,"v":0.01},{"s":"Fcy","c":18,"v":0.01},{"s":"Fcy","c":19,"v":0.01},{"s":"Fcy","c":20,"v":0.015},{"s":"Fcy","c":21,"v":0.015},{"s":"Fcy","c":22,"v":0.015},{"s":"Fcy","c":23,"v":0.02},{"s":"Fcy","c":24,"v":0.03},{"s":"Fcy","c":25,"v":0.05},{"s":"Fcy","c":26,"v":0.09},{"s":"Fcy","c":27,"v":0.15},{"s":"Fcy","c":28,"v":0.28},{"s":"Fcy","c":29,"v":0.53},{"s":"Fcy","c":30,"v":0.81},{"s":"Fcy","c":31,"v":1.14},{"s":"Fcy","c":32,"v":1.46},{"s":"Fcy","c":33,"v":1.77},{"s":"Fcy","c":34,"v":2.05},{"s":"Fcy","c":35,"v":2.32},{"s":"Fcy","c":36,"v":2.59},{"s":"Fcy","c":37,"v":2.83},{"s":"Fcy","c":38,"v":3.06},{"s":"Fcy","c":39,"v":3.26},{"s":"Fcy","c":40,"v":3.44},
{"s":"Fgr","c":1,"v":0},{"s":"Fgr","c":2,"v":0},{"s":"Fgr","c":3,"v":0},{"s":"Fgr","c":4,"v":0},{"s":"Fgr","c":5,"v":0},{"s":"Fgr","c":6,"v":0},{"s":"Fgr","c":7,"v":0},{"s":"Fgr","c":8,"v":0.005},{"s":"Fgr","c":9,"v":0.005},{"s":"Fgr","c":10,"v":0.005},{"s":"Fgr","c":11,"v":0.005},{"s":"Fgr","c":12,"v":0.005},{"s":"Fgr","c":13,"v":0.01},{"s":"Fgr","c":14,"v":0.01},{"s":"Fgr","c":15,"v":0.01},{"s":"Fgr","c":16,"v":0.01},{"s":"Fgr","c":17,"v":0.01},{"s":"Fgr","c":18,"v":0.01},{"s":"Fgr","c":19,"v":0.01},{"s":"Fgr","c":20,"v":0.015},{"s":"Fgr","c":21,"v":0.015},{"s":"Fgr","c":22,"v":0.015},{"s":"Fgr","c":23,"v":0.02},{"s":"Fgr","c":24,"v":0.03},{"s":"Fgr","c":25,"v":0.05},{"s":"Fgr","c":26,"v":0.09},{"s":"Fgr","c":27,"v":0.15},{"s":"Fgr","c":28,"v":0.27},{"s":"Fgr","c":29,"v":0.52},{"s":"Fgr","c":30,"v":0.8},{"s":"Fgr","c":31,"v":1.12},{"s":"Fgr","c":32,"v":1.45},{"s":"Fgr","c":33,"v":1.75},{"s":"Fgr","c":34,"v":2.03},{"s":"Fgr","c":35,"v":2.3},{"s":"Fgr","c":36,"v":2.56},{"s":"Fgr","c":37,"v":2.8},{"s":"Fgr","c":38,"v":3.02},{"s":"Fgr","c":39,"v":3.22},{"s":"Fgr","c":40,"v":3.4},
{"s":"Fye","c":1,"v":0},{"s":"Fye","c":2,"v":0},{"s":"Fye","c":3,"v":0},{"s":"Fye","c":4,"v":0},{"s":"Fye","c":5,"v":0},{"s":"Fye","c":6,"v":0},{"s":"Fye","c":7,"v":0},{"s":"Fye","c":8,"v":0.005},{"s":"Fye","c":9,"v":0.005},{"s":"Fye","c":10,"v":0.005},{"s":"Fye","c":11,"v":0.005},{"s":"Fye","c":12,"v":0.005},{"s":"Fye","c":13,"v":0.01},{"s":"Fye","c":14,"v":0.01},{"s":"Fye","c":15,"v":0.01},{"s":"Fye","c":16,"v":0.01},{"s":"Fye","c":17,"v":0.01},{"s":"Fye","c":18,"v":0.01},{"s":"Fye","c":19,"v":0.01},{"s":"Fye","c":20,"v":0.015},{"s":"Fye","c":21,"v":0.015},{"s":"Fye","c":22,"v":0.015},{"s":"Fye","c":23,"v":0.02},{"s":"Fye","c":24,"v":0.03},{"s":"Fye","c":25,"v":0.05},{"s":"Fye","c":26,"v":0.09},{"s":"Fye","c":27,"v":0.15},{"s":"Fye","c":28,"v":0.26},{"s":"Fye","c":29,"v":0.51},{"s":"Fye","c":30,"v":0.78},{"s":"Fye","c":31,"v":1.1},{"s":"Fye","c":32,"v":1.41},{"s":"Fye","c":33,"v":1.71},{"s":"Fye","c":34,"v":1.98},{"s":"Fye","c":35,"v":2.24},{"s":"Fye","c":36,"v":2.5},{"s":"Fye","c":37,"v":2.73},{"s":"Fye","c":38,"v":2.95},{"s":"Fye","c":39,"v":3.15},{"s":"Fye","c":40,"v":3.32},
{"s":"Fre","c":1,"v":0},{"s":"Fre","c":2,"v":0},{"s":"Fre","c":3,"v":0},{"s":"Fre","c":4,"v":0},{"s":"Fre","c":5,"v":0},{"s":"Fre","c":6,"v":0},{"s":"Fre","c":7,"v":0},{"s":"Fre","c":8,"v":0.005},{"s":"Fre","c":9,"v":0.005},{"s":"Fre","c":10,"v":0.005},{"s":"Fre","c":11,"v":0.005},{"s":"Fre","c":12,"v":0.005},{"s":"Fre","c":13,"v":0.01},{"s":"Fre","c":14,"v":0.01},{"s":"Fre","c":15,"v":0.01},{"s":"Fre","c":16,"v":0.01},{"s":"Fre","c":17,"v":0.01},{"s":"Fre","c":18,"v":0.01},{"s":"Fre","c":19,"v":0.01},{"s":"Fre","c":20,"v":0.015},{"s":"Fre","c":21,"v":0.015},{"s":"Fre","c":22,"v":0.015},{"s":"Fre","c":23,"v":0.02},{"s":"Fre","c":24,"v":0.03},{"s":"Fre","c":25,"v":0.05},{"s":"Fre","c":26,"v":0.09},{"s":"Fre","c":27,"v":0.15},{"s":"Fre","c":28,"v":0.27},{"s":"Fre","c":29,"v":0.52},{"s":"Fre","c":30,"v":0.79},{"s":"Fre","c":31,"v":1.11},{"s":"Fre","c":32,"v":1.43},{"s":"Fre","c":33,"v":1.73},{"s":"Fre","c":34,"v":2.01},{"s":"Fre","c":35,"v":2.27},{"s":"Fre","c":36,"v":2.53},{"s":"Fre","c":37,"v":2.77},{"s":"Fre","c":38,"v":2.99},{"s":"Fre","c":39,"v":3.19},{"s":"Fre","c":40,"v":3.37}
]},
"data":{"name":"curves"},
"mark":{"type":"line","strokeWidth":1.4,"interpolate":"monotone","clip":true},
"encoding":{
"x":{"field":"c","type":"quantitative","scale":{"domain":[0,42],"nice":false,"zero":false},
"axis":{"title":"Cycle","values":[0,2,4,6,8,10,12,14,16,18,20,22,24,26,28,30,32,34,36,38,40,42],"format":"d","grid":true,"gridDash":[3,3],"gridColor":"#dadada","tickSize":4,"tickColor":"#9a9a9a","domainColor":"#9a9a9a","labelFontSize":10,"labelColor":"#333333","labelPadding":3,"titleFontSize":12,"titleFontWeight":"normal","titleColor":"#222222","titlePadding":8}},
"y":{"field":"v","type":"quantitative","scale":{"domain":[-0.26,5.17],"nice":false,"zero":false},
"axis":{"title":"ΔRn","values":[0,0.5,1,1.5,2,2.5,3,3.5,4,4.5,5],"format":".1f","grid":true,"gridDash":[3,3],"gridColor":"#dadada","tickSize":4,"tickColor":"#9a9a9a","domainColor":"#9a9a9a","labelFontSize":10,"labelColor":"#333333","labelPadding":3,"titleFontSize":12,"titleFontWeight":"normal","titleColor":"#222222","titlePadding":9}},
"color":{"field":"s","type":"nominal","legend":null,"sort":null,"scale":{
"domain":["Acy","Abl","Agr","Aye","Ama","Are","Bgr","Bli","Bye","Bre","Cbl","Cma","Cgr","Cre","Dmi","Dpu","Dor","Dre","Ecy","Ema","Eor","Ere","Gbl","Gli","Gor","Fcy","Fgr","Fye","Fre"],
"range":["#00c8f0","#2a50ff","#20c860","#c8d020","#c030e0","#f03050","#30c040","#a0d820","#f0c030","#f03030","#4060f0","#b040e0","#30c070","#f04020","#40e8a0","#7050e0","#e08020","#f03a20","#20c0e8","#d040c0","#f09020","#f03030","#40a0f0","#a8d020","#e07020","#20d0d0","#40c840","#f0d020","#f03a20"]}}
},
"config":{"view":{"stroke":"#a8a8a8"},"font":"Liberation Sans"}
}
